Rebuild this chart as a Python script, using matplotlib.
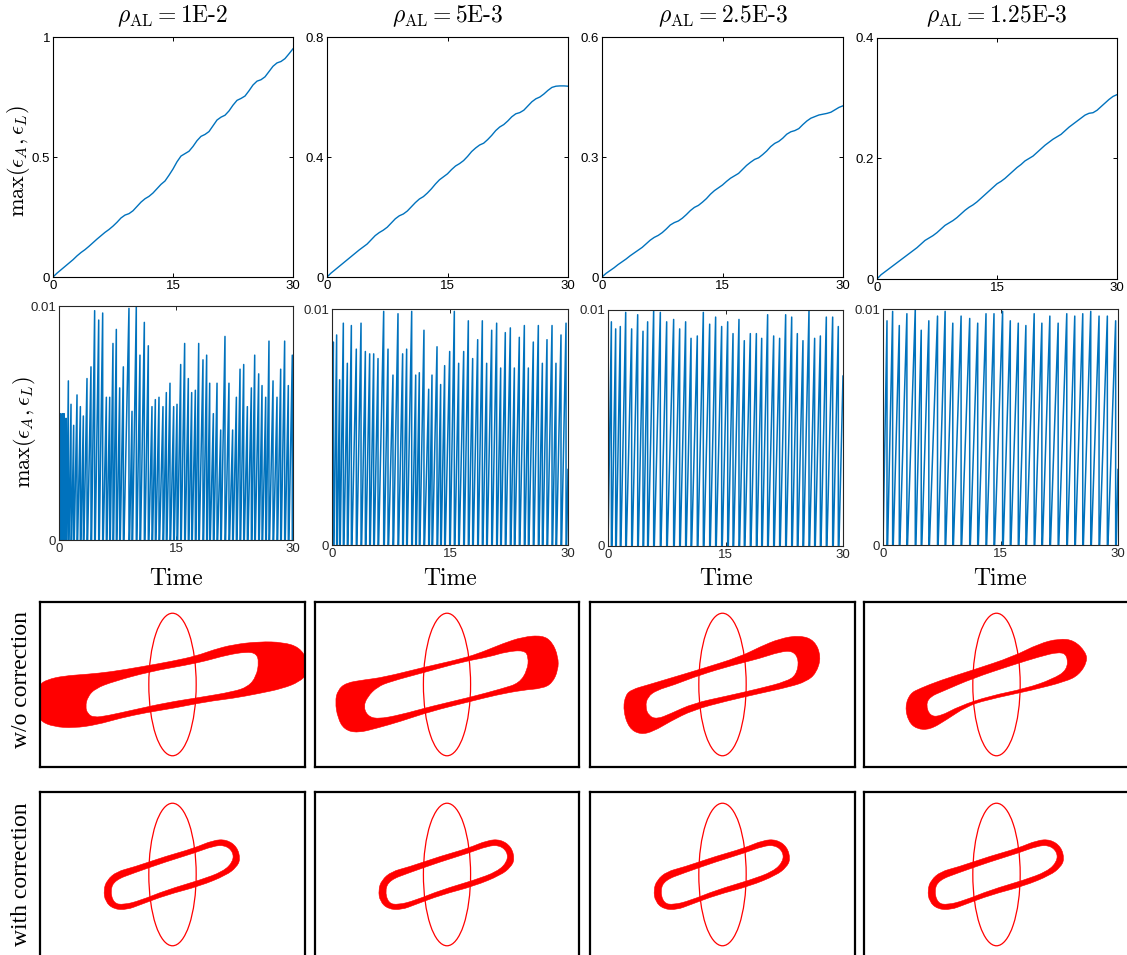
import numpy as np
import matplotlib
matplotlib.use('Agg')
import matplotlib.pyplot as plt
from matplotlib.path import Path
from matplotlib.patches import PathPatch, Ellipse

plt.rcParams['mathtext.fontset'] = 'cm'

W, H = 1127, 955
BLUE = '#0072BD'
RED = '#FF0000'

titles = [r'$\rho_{\mathrm{AL}} = \text{1E-2}$', r'$\rho_{\mathrm{AL}} = \text{5E-3}$',
          r'$\rho_{\mathrm{AL}} = \text{2.5E-3}$', r'$\rho_{\mathrm{AL}} = \text{1.25E-3}$']

# ---- row 1: max error vs time (sampled every 0.5) ----
time = np.arange(0, 30.01, 0.5)
err_1e2 = [0.000, 0.016, 0.030, 0.044, 0.058, 0.072, 0.088, 0.102, 0.114, 0.128,
           0.143, 0.158, 0.172, 0.186, 0.198, 0.212, 0.228, 0.246, 0.258, 0.264,
           0.276, 0.294, 0.312, 0.326, 0.336, 0.350, 0.368, 0.386, 0.400, 0.424,
           0.450, 0.480, 0.504, 0.514, 0.524, 0.544, 0.568, 0.586, 0.594, 0.606,
           0.630, 0.654, 0.666, 0.674, 0.692, 0.716, 0.736, 0.744, 0.754, 0.776,
           0.800, 0.816, 0.822, 0.834, 0.856, 0.878, 0.892, 0.898, 0.910, 0.930,
           0.951]
err_5e3 = [0.000, 0.013, 0.024, 0.035, 0.046, 0.057, 0.068, 0.079, 0.090, 0.100,
           0.110, 0.124, 0.138, 0.148, 0.156, 0.166, 0.180, 0.194, 0.204, 0.210,
           0.220, 0.234, 0.248, 0.260, 0.268, 0.280, 0.294, 0.310, 0.324, 0.334,
           0.344, 0.358, 0.370, 0.378, 0.388, 0.402, 0.418, 0.430, 0.440, 0.446,
           0.458, 0.472, 0.488, 0.500, 0.508, 0.520, 0.534, 0.544, 0.548, 0.556,
           0.570, 0.584, 0.594, 0.600, 0.610, 0.622, 0.632, 0.636, 0.637, 0.637,
           0.636]
err_25e4 = [0.000, 0.009, 0.016, 0.023, 0.031, 0.038, 0.045, 0.053, 0.060, 0.067,
            0.074, 0.083, 0.092, 0.099, 0.104, 0.111, 0.120, 0.130, 0.136, 0.140,
            0.147, 0.156, 0.166, 0.174, 0.179, 0.187, 0.196, 0.207, 0.216, 0.223,
            0.230, 0.239, 0.247, 0.253, 0.259, 0.269, 0.279, 0.287, 0.294, 0.298,
            0.306, 0.315, 0.326, 0.334, 0.339, 0.347, 0.357, 0.363, 0.366, 0.371,
            0.381, 0.390, 0.397, 0.401, 0.405, 0.407, 0.409, 0.412, 0.418, 0.424,
            0.428]
err_125e5 = [0.000, 0.007, 0.012, 0.017, 0.022, 0.027, 0.032, 0.037, 0.042, 0.047,
             0.052, 0.058, 0.064, 0.068, 0.072, 0.077, 0.083, 0.089, 0.093, 0.097,
             0.102, 0.108, 0.114, 0.119, 0.123, 0.128, 0.134, 0.140, 0.146, 0.152,
             0.158, 0.162, 0.167, 0.173, 0.179, 0.185, 0.190, 0.196, 0.200, 0.204,
             0.210, 0.216, 0.222, 0.227, 0.232, 0.236, 0.240, 0.246, 0.252, 0.257,
             0.262, 0.267, 0.272, 0.275, 0.276, 0.280, 0.286, 0.292, 0.298, 0.303,
             0.306]
top_series = [err_1e2, err_5e3, err_25e4, err_125e5]
top_yticks = [[0, 0.5, 1], [0, 0.4, 0.8], [0, 0.3, 0.6], [0, 0.2, 0.4]]
top_ylabels = [['0', '0.5', '1'], ['0', '0.4', '0.8'], ['0', '0.3', '0.6'], ['0', '0.2', '0.4']]

# ---- row 2: corrected error, peak times and peak values ----
peak_t_1e2 = [0.21, 0.43, 0.64, 0.90, 1.20, 1.54, 1.88, 2.31, 2.74, 3.12, 3.59, 4.10,
              4.57, 5.09, 5.60, 6.07, 6.50, 6.92, 7.35, 7.78, 8.25, 8.97, 9.36, 9.91,
              10.38, 10.94, 11.45, 11.92, 12.35, 12.82, 13.33, 13.76, 14.23, 14.70,
              15.13, 15.60, 16.11, 16.58, 17.01, 17.48, 17.91, 18.46, 18.93, 19.32,
              19.79, 20.26, 20.73, 21.28, 21.79, 22.26, 22.74, 23.21, 23.68, 24.15,
              24.66, 25.09, 25.60, 26.03, 26.50, 26.92, 27.44, 27.95, 28.42, 28.93,
              29.40, 29.91]
peak_v_1e2 = [.0054, .0054, .0054, .0052, .0068, .0058, .0049, .0062, .0057, .0053, .0069, .0074,
              .0098, .0094, .0097, .0061, .0061, .0084, .0090, .0065, .0074, .0099, .0055, .0100,
              .0079, .0093, .0083, .0057, .0060, .0061, .0057, .0063, .0067, .0057,
              .0058, .0075, .0084, .0069, .0063, .0064, .0084, .0077, .0079, .0067,
              .0054, .0067, .0047, .0087, .0067, .0047, .0061, .0073, .0075, .0057,
              .0065, .0079, .0071, .0066, .0061, .0085, .0068, .0061, .0073, .0085,
              .0066, .0079]
peak_t_5e3 = [0.17, 0.59, 0.97, 1.44, 1.95, 2.46, 3.09, 3.69, 4.24, 4.79, 5.30, 5.85,
              6.57, 7.12, 7.75, 8.39, 8.98, 9.49, 10.13, 10.64, 11.10, 11.69, 12.29,
              12.71, 13.35, 13.81, 14.32, 14.96, 15.55, 16.10, 16.74, 17.33, 17.88,
              18.52, 19.11, 19.66, 20.30, 20.93, 21.44, 22.03, 22.67, 23.18, 23.81,
              24.45, 24.96, 25.59, 26.23, 26.74, 27.33, 27.97, 28.47, 29.11, 29.75]
peak_v_5e3 = [.0086, .0089, .0070, .0094, .0077, .0093, .0083, .0094, .0082, .0081, .0081, .0079,
              .0099, .0083, .0072, .0098, .0081, .0083, .0099, .0072, .0073, .0091, .0066,
              .0072, .0084, .0068, .0076, .0082, .0099, .0077, .0082, .0095, .0079,
              .0087, .0095, .0077, .0091, .0094, .0075, .0090, .0092, .0075, .0088,
              .0093, .0075, .0086, .0093, .0077, .0087, .0093, .0077, .0089, .0094]
peak_t_25e4 = [0.43, 0.98, 1.57, 2.26, 3.02, 3.79, 4.47, 5.06, 5.83, 6.68, 7.49, 8.38,
               9.15, 9.91, 10.60, 11.40, 12.17, 12.98, 13.74, 14.51, 15.28, 15.96, 16.72,
               17.40, 18.17, 18.94, 19.62, 20.38, 21.15, 21.91, 22.68, 23.45, 24.17,
               24.89, 25.66, 26.38, 27.11, 27.87, 28.68, 29.40]
peak_v_25e4 = [.0095, .0092, .0093, .0099, .0092, .0098, .0091, .0095, .0100, .0099, .0095, .0096,
               .0092, .0095, .0088, .0089, .0099, .0094, .0097, .0093, .0095, .0090, .0096,
               .0087, .0090, .0090, .0088, .0098, .0089, .0088, .0098, .0097, .0090,
               .0087, .0100, .0088, .0089, .0097, .0097, .0093]
peak_t_125e5 = [0.51, 1.23, 2.08, 3.05, 4.12, 4.88, 5.85, 6.96, 7.93, 8.91, 9.97, 11.07,
                12.09, 13.15, 14.17, 15.27, 16.25, 17.27, 18.24, 19.30, 20.28, 21.30,
                22.36, 23.46, 24.48, 25.50, 26.52, 27.58, 28.64, 29.70]
peak_v_125e5 = [.0095, .0099, .0093, .0098, .0100, .0091, .0095, .0097, .0099, .0094, .0097, .0096,
                .0094, .0098, .0098, .0099, .0095, .0094, .0093, .0098, .0094, .0097,
                .0094, .0098, .0097, .0098, .0099, .0097, .0097, .0095]
start_vals = [0.0044, 0.0, 0.0, 0.0]
end_vals = [0.0003, 0.0032, 0.0072, 0.0032]
peak_times = [peak_t_1e2, peak_t_5e3, peak_t_25e4, peak_t_125e5]
peak_vals = [peak_v_1e2, peak_v_5e3, peak_v_25e4, peak_v_125e5]

# ---- rows 3/4: interface shapes (outer / inner boundary of the traced band) ----
drop_ellipse = (1.43, 4.32)  # width, height of the initial drop

outer_wo = [
    [(-4.18, -0.47), (-4.03, -0.01), (-3.78, 0.15), (-3.28, 0.26), (-2.58, 0.31), (-1.88, 0.38),
     (-0.98, 0.53), (0.02, 0.71), (0.73, 0.87), (1.23, 1.05), (1.83, 1.21), (2.63, 1.30),
     (3.33, 1.28), (3.83, 1.13), (4.08, 0.73), (4.08, 0.33), (3.83, 0.08), (3.33, -0.12),
     (2.63, -0.27), (1.83, -0.42), (1.03, -0.52), (0.03, -0.72), (-0.78, -0.85), (-1.58, -1.02),
     (-2.28, -1.22), (-2.98, -1.32), (-3.58, -1.28), (-3.98, -1.12), (-4.18, -0.82)],
    [(-3.39, -0.52), (-3.31, -0.17), (-3.06, 0.05), (-2.51, 0.14), (-1.91, 0.22), (-0.71, 0.52),
     (0.49, 0.79), (1.09, 0.99), (1.69, 1.24), (2.29, 1.44), (2.89, 1.49), (3.19, 1.29),
     (3.37, 0.84), (3.37, 0.44), (3.19, 0.04), (2.89, -0.12), (2.29, -0.17), (1.49, -0.32),
     (0.69, -0.52), (-0.51, -0.82), (-1.41, -1.12), (-2.11, -1.32), (-2.71, -1.47),
     (-3.11, -1.37), (-3.31, -1.02)],
    [(-3.00, -0.77), (-2.93, -0.32), (-2.73, -0.15), (-2.28, -0.02), (-1.68, 0.16), (-0.68, 0.46),
     (0.53, 0.84), (1.13, 1.14), (1.73, 1.39), (2.33, 1.49), (2.78, 1.34), (2.98, 0.84),
     (2.83, 0.34), (2.53, 0.09), (2.03, -0.07), (1.13, -0.27), (0.13, -0.50), (-0.88, -0.77),
     (-1.58, -1.12), (-2.08, -1.42), (-2.48, -1.52), (-2.83, -1.32)],
    [(-2.76, -0.67), (-2.61, -0.27), (-2.31, -0.12), (-1.71, 0.12), (-0.71, 0.44), (0.49, 0.84),
     (1.29, 1.24), (1.89, 1.39), (2.34, 1.34), (2.69, 0.99), (2.74, 0.69), (2.49, 0.29),
     (2.09, 0.09), (1.09, -0.17), (-0.31, -0.47), (-0.91, -0.67), (-1.51, -1.07),
     (-2.01, -1.37), (-2.41, -1.35), (-2.66, -1.12)],
]
inner_wo = [
    [(-2.63, -0.67), (-2.56, -0.37), (-2.33, -0.12), (-1.78, 0.09), (-0.68, 0.39), (0.43, 0.59),
     (1.03, 0.72), (1.63, 0.89), (2.23, 0.99), (2.53, 0.94), (2.61, 0.69), (2.53, 0.24),
     (2.28, -0.07), (1.83, -0.22), (0.83, -0.39), (-0.18, -0.55), (-1.18, -0.77),
     (-1.98, -0.95), (-2.38, -1.00), (-2.56, -0.89)],
    [(-2.53, -0.67), (-2.41, -0.37), (-2.11, -0.07), (-1.71, 0.09), (-0.71, 0.36), (0.49, 0.69),
     (1.29, 0.84), (1.79, 0.99), (2.34, 1.04), (2.47, 0.84), (2.44, 0.44), (2.19, 0.04),
     (1.69, -0.12), (0.69, -0.39), (-0.51, -0.67), (-1.41, -0.92), (-2.11, -1.05),
     (-2.41, -0.95)],
    [(-2.33, -0.67), (-2.26, -0.37), (-1.98, -0.17), (-1.48, -0.02), (-0.68, 0.29), (0.33, 0.59),
     (1.13, 0.79), (1.73, 0.99), (2.13, 1.02), (2.31, 0.74), (2.23, 0.29), (1.93, 0.09),
     (1.13, -0.12), (0.13, -0.35), (-0.88, -0.57), (-1.58, -0.89), (-1.98, -1.05),
     (-2.23, -0.95)],
    [(-2.13, -0.62), (-2.01, -0.37), (-1.61, -0.20), (-0.71, 0.19), (0.49, 0.59), (1.29, 0.84),
     (1.89, 0.99), (2.14, 0.89), (2.14, 0.44), (1.69, 0.16), (0.89, -0.12), (-0.21, -0.35),
     (-1.11, -0.65), (-1.71, -0.97), (-2.01, -0.95)],
]
outer_with = [(-2.08, -0.47), (-1.98, -0.17), (-1.68, 0.09), (-1.18, 0.22), (-0.18, 0.56),
              (0.63, 0.79), (1.23, 1.04), (1.63, 1.06), (1.95, 0.84), (2.05, 0.46), (1.93, 0.22),
              (1.63, -0.02), (0.83, -0.35), (-0.18, -0.62), (-0.98, -0.92), (-1.38, -1.07),
              (-1.78, -1.05), (-2.03, -0.82)]
inner_with = [(-1.88, -0.47), (-1.73, -0.17), (-1.18, 0.04), (-0.18, 0.39), (0.63, 0.64),
              (1.23, 0.86), (1.58, 0.89), (1.83, 0.69), (1.83, 0.39), (1.53, 0.09), (0.83, -0.17),
              (-0.18, -0.47), (-0.98, -0.79), (-1.48, -0.92), (-1.78, -0.87)]


def rect(l, t, r, b):
    return [l / W, 1 - b / H, (r - l) / W, (b - t) / H]


def closed_curve(pts):
    pts = np.asarray(pts, dtype=float)
    mids = (pts + np.roll(pts, -1, axis=0)) / 2
    verts = [mids[-1]]
    codes = [Path.MOVETO]
    for p, m in zip(pts, mids):
        verts += [p, m]
        codes += [Path.CURVE3, Path.CURVE3]
    verts.append(mids[-1])
    codes.append(Path.CLOSEPOLY)
    return verts, codes


def band(ax, outer, inner):
    vo, co = closed_curve(outer)
    vi, ci = closed_curve(inner[::-1])
    path = Path(np.array(vo + vi), co + ci)
    ax.add_patch(PathPatch(path, facecolor=RED, edgecolor=RED, lw=0.4))


def shape_axes(ax):
    ax.set_xlim(-4, 4)
    ax.set_ylim(-2.5, 2.5)
    ax.set_xticks([])
    ax.set_yticks([])
    for s in ax.spines.values():
        s.set_linewidth(1.6)
        s.set_color('black')
    ax.add_patch(Ellipse((0, 0), drop_ellipse[0], drop_ellipse[1], fill=False,
                         edgecolor=RED, lw=0.9))


def matlab_axes(ax, fc):
    ax.tick_params(direction='in', length=3, width=0.7, top=True, right=True,
                   labelsize=9.5, pad=2, colors=fc, labelcolor=fc)
    for lab in ax.get_xticklabels() + ax.get_yticklabels():
        lab.set_family('Liberation Sans')
    for s in ax.spines.values():
        s.set_linewidth(0.8)
        s.set_color(fc)


fig = plt.figure(figsize=(W / 100, H / 100), dpi=100)

row1 = [(53, 37, 293, 277), (327, 37, 568, 277), (602, 37, 843, 277), (877, 38, 1117, 279)]
row2 = [(59, 306, 293, 540), (332, 309, 568, 545), (608, 310, 843, 546), (883, 309, 1118, 545)]
row3 = [(40, 602, 305, 767), (315, 602, 579, 767), (590, 602, 855, 767), (864, 602, 1129, 767)]
row4 = [(40, 792, 305, 957), (315, 792, 579, 957), (590, 792, 855, 957), (864, 792, 1129, 957)]

for i in range(4):
    # row 1
    ax = fig.add_axes(rect(*row1[i]))
    ax.plot(time, top_series[i], color=BLUE, lw=1.0)
    ax.set_xlim(0, 30)
    ax.set_ylim(0, top_yticks[i][-1])
    ax.set_xticks([0, 15, 30])
    ax.set_yticks(top_yticks[i])
    ax.set_yticklabels(top_ylabels[i])
    matlab_axes(ax, 'black')
    cx = (row1[i][0] + row1[i][2]) / 2
    fig.text(cx / W, 1 - 16 / H, titles[i], ha='center', va='center', fontsize=17)

    # row 2
    ax = fig.add_axes(rect(*row2[i]))
    gap = 0.08
    t = [0.0, 0.0]
    v = [start_vals[i], 0.0]
    prev = 0.0
    for tp, vp in zip(peak_times[i], peak_vals[i]):
        t += [prev + gap if prev > 0 else prev, tp, tp]
        v += [0.0, vp, 0.0]
        prev = tp
    t += [prev + gap, 30.0]
    v += [0.0, end_vals[i]]
    ax.plot(t, v, color=BLUE, lw=1.1)
    ax.set_xlim(0, 30)
    ax.set_ylim(0, 0.01)
    ax.set_xticks([0, 15, 30])
    ax.set_yticks([0, 0.01])
    ax.set_yticklabels(['0', '0.01'])
    matlab_axes(ax, '#262626')
    cx = (row2[i][0] + row2[i][2]) / 2
    fig.text(cx / W, 1 - 579 / H, 'Time', ha='center', va='center', fontsize=17,
             family='cmr10')

    # row 3
    ax = fig.add_axes(rect(*row3[i]))
    shape_axes(ax)
    band(ax, outer_wo[i], inner_wo[i])

    # row 4
    ax = fig.add_axes(rect(*row4[i]))
    shape_axes(ax)
    band(ax, outer_with, inner_with)

fig.text(19 / W, 1 - 161 / H, r'$\max(\epsilon_A,\epsilon_L)$', rotation=90,
         ha='center', va='center', fontsize=16)
fig.text(24 / W, 1 - 432 / H, r'$\max(\epsilon_A,\epsilon_L)$', rotation=90,
         ha='center', va='center', fontsize=16)
fig.text(22 / W, 1 - 680 / H, 'w/o correction', rotation=90, ha='center', va='center',
         fontsize=17, family='Liberation Serif')
fig.text(22 / W, 1 - 874 / H, 'with correction', rotation=90, ha='center', va='center',
         fontsize=17, family='Liberation Serif')

fig.savefig('out.png', dpi=100)
